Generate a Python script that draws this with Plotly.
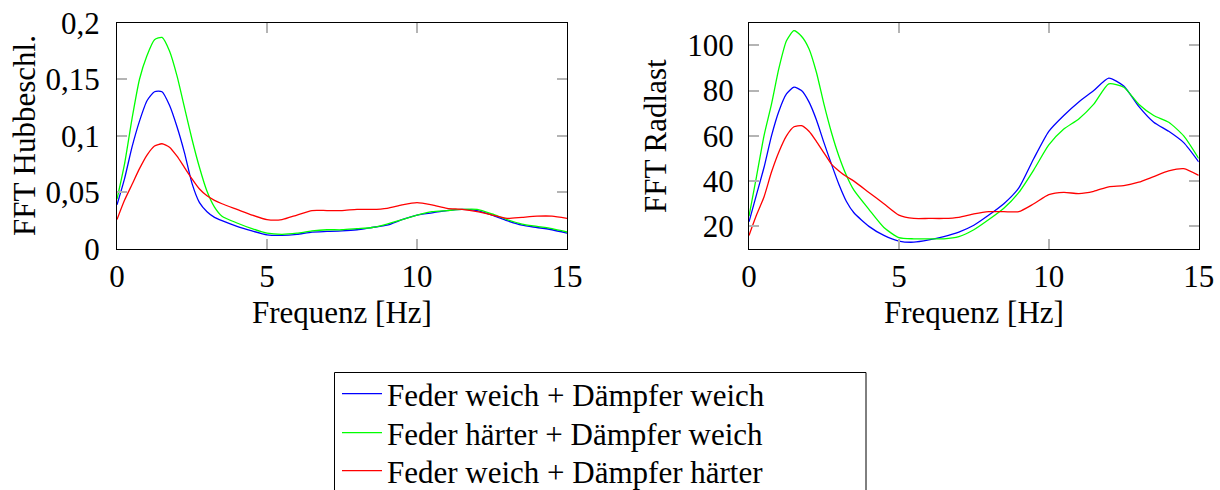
import plotly.graph_objects as go

W, H = 1220, 490

freq = [0, 0.25, 0.5, 0.75, 1.0, 1.25, 1.5, 1.75, 2.0, 2.25, 2.5, 2.75, 3.0, 3.25, 3.5,
        4.0, 4.5, 5.0, 5.5, 6.0, 6.5, 7.0, 7.5, 8.0, 8.5, 9.0, 9.5, 10.0, 10.5, 11.0,
        11.5, 12.0, 12.5, 13.0, 13.5, 14.0, 14.5, 15.0]

series_names = ["Feder weich + Dämpfer weich",
                "Feder härter + Dämpfer weich",
                "Feder weich + Dämpfer härter"]

hub_weich_weich = [0.039, 0.062, 0.090, 0.113, 0.131, 0.139, 0.139, 0.127, 0.108, 0.085,
                   0.058, 0.041, 0.033, 0.028, 0.025, 0.020, 0.016, 0.0125, 0.012, 0.013,
                   0.015, 0.0155, 0.016, 0.017, 0.019, 0.021, 0.026, 0.030, 0.032, 0.034,
                   0.035, 0.034, 0.030, 0.025, 0.021, 0.019, 0.017, 0.014]
hub_haerter_weich = [0.044, 0.075, 0.115, 0.150, 0.171, 0.185, 0.187, 0.175, 0.153, 0.125,
                     0.097, 0.072, 0.051, 0.037, 0.029, 0.023, 0.018, 0.014, 0.013, 0.014,
                     0.016, 0.017, 0.017, 0.018, 0.019, 0.022, 0.026, 0.030, 0.033, 0.034,
                     0.035, 0.035, 0.031, 0.026, 0.022, 0.020, 0.018, 0.015]
hub_weich_haerter = [0.026, 0.043, 0.057, 0.071, 0.083, 0.091, 0.093, 0.090, 0.082, 0.072,
                     0.062, 0.053, 0.047, 0.043, 0.040, 0.035, 0.030, 0.026, 0.026, 0.030,
                     0.034, 0.034, 0.034, 0.035, 0.035, 0.036, 0.039, 0.041, 0.039, 0.036,
                     0.035, 0.033, 0.030, 0.027, 0.028, 0.029, 0.029, 0.027]

rad_weich_weich = [22, 34, 46, 60, 71, 78.5, 81.5, 80, 75, 67, 57, 47.5, 38.5, 31, 26, 20, 16,
                   13.5, 13, 14, 15.5, 17.5, 20.5, 25, 30, 37, 50, 62, 69, 75, 80, 85.5, 82,
                   73, 66, 62, 57, 48.5]
rad_haerter_weich = [24.5, 42, 60, 74, 90, 102, 106.5, 104, 98.5, 88, 74, 61.5, 51, 42.5, 36,
                     27.5, 19.5, 15, 14.5, 14.5, 14.5, 15.5, 18.5, 23, 28, 35, 45, 56, 63, 67.5,
                     74, 83, 81.5, 74, 69, 66, 60, 50]
rad_weich_haerter = [16, 25, 33, 44, 53, 60, 64, 64.5, 62, 57.5, 52.5, 47.5, 44.5, 42, 40, 35,
                     30, 25, 23.5, 23.5, 23.5, 24, 25.5, 26.5, 26.5, 26.5, 30, 34, 35, 34.5,
                     35.5, 37.5, 38, 39.5, 42, 44.5, 45.5, 42.5]

hub_ticks = [0, 0.05, 0.1, 0.15, 0.2]
hub_ticktext = ["0", "0,05", "0,1", "0,15", "0,2"]
rad_ticks = [20, 40, 60, 80, 100]
x_ticks = [0, 5, 10, 15]

colors = ["#0000ff", "#00ff00", "#ff0000"]
FONT = "Liberation Serif"
FS = 31

legend_ids = ["legend", "legend2", "legend3"]

fig = go.Figure()
hub = [hub_weich_weich, hub_haerter_weich, hub_weich_haerter]
rad = [rad_weich_weich, rad_haerter_weich, rad_weich_haerter]
for i in range(3):
    fig.add_trace(go.Scatter(x=freq, y=hub[i], mode="lines", name=series_names[i],
                             line=dict(color=colors[i], width=1.3, shape="spline", smoothing=0.6),
                             legendgroup=f"g{i}", legend=legend_ids[i], showlegend=True,
                             xaxis="x", yaxis="y"))
for i in range(3):
    fig.add_trace(go.Scatter(x=freq, y=rad[i], mode="lines", name=series_names[i],
                             line=dict(color=colors[i], width=1.3, shape="spline", smoothing=0.6),
                             legendgroup=f"g{i}", legend=legend_ids[i], showlegend=False,
                             xaxis="x2", yaxis="y2"))

L1, R1 = 117, 567
L2, R2 = 749, 1198.7
TOP, BOT = 22.7, 249

def px(v):
    return v / W

def py(v):
    return 1 - v / H

axis_common = dict(showline=True, linecolor="black", linewidth=1.2, mirror="ticks",
                   ticks="inside", ticklen=10, tickwidth=1.5, tickcolor="#b4b4b4",
                   showgrid=False, zeroline=False, automargin=False,
                   tickfont=dict(family=FONT, size=FS, color="black"))

legend_common = dict(xanchor="left", yanchor="top", borderwidth=0, bgcolor="rgba(0,0,0,0)",
                     font=dict(family=FONT, size=FS, color="black"), itemwidth=40)

fig.update_layout(
    width=W, height=H, margin=dict(l=0, r=0, t=0, b=0, autoexpand=False),
    paper_bgcolor="white", plot_bgcolor="white",
    xaxis=dict(domain=[px(L1), px(R1)], range=[0, 15], tickvals=x_ticks,
               anchor="y", ticklabelstandoff=0, **axis_common),
    yaxis=dict(domain=[py(BOT), py(TOP)], range=[0, 0.2], tickvals=hub_ticks,
               ticktext=hub_ticktext, anchor="x", ticklabelstandoff=10, **axis_common),
    xaxis2=dict(domain=[px(L2), px(R2)], range=[0, 15], tickvals=x_ticks,
                anchor="y2", ticklabelstandoff=0, **axis_common),
    yaxis2=dict(domain=[py(BOT), py(TOP)], range=[10, 110], tickvals=rad_ticks,
                anchor="x2", ticklabelstandoff=8, **axis_common),
    legend=dict(x=px(337), y=py(367), **legend_common),
    legend2=dict(x=px(337), y=py(406), **legend_common),
    legend3=dict(x=px(337), y=py(444), **legend_common),
    showlegend=True,
)

# legend frame
fig.add_shape(type="rect", xref="paper", yref="paper",
              x0=px(334.5), x1=px(866), y0=py(520), y1=py(372.5),
              line=dict(color="black", width=1), fillcolor="rgba(0,0,0,0)", layer="below")

annots = [
    dict(text="Frequenz [Hz]", x=px((L1 + R1) / 2), y=py(312)),
    dict(text="Frequenz [Hz]", x=px((L2 + R2) / 2), y=py(312)),
    dict(text="FFT Hubbeschl.", x=px(24), y=py(136), textangle=-90),
    dict(text="FFT Radlast", x=px(655), y=py(136), textangle=-90),
]
for a in annots:
    fig.add_annotation(xref="paper", yref="paper", showarrow=False,
                       xanchor="center", yanchor="middle",
                       font=dict(family=FONT, size=FS, color="black"), **a)

fig.write_html("out.html")
